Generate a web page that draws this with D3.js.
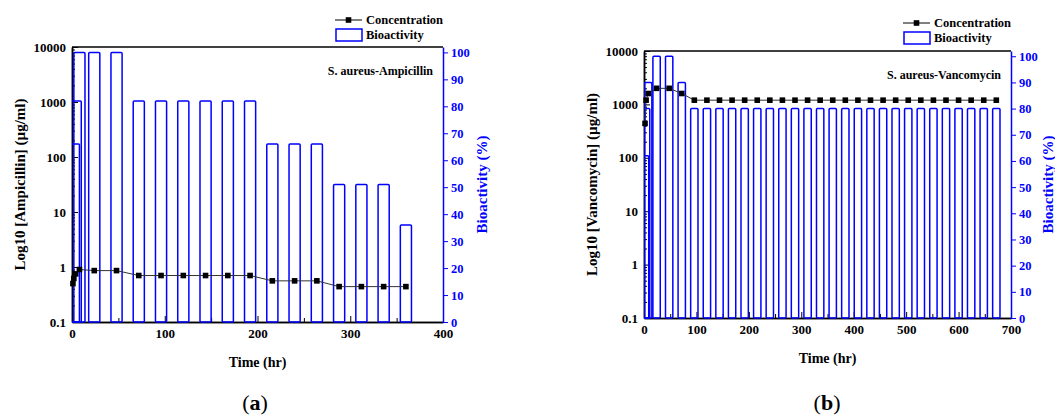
<!DOCTYPE html>
<html>
<head>
<meta charset="utf-8">
<script src="https://cdn.jsdelivr.net/npm/d3@7"></script>
<style>
  body { margin: 0; background: #fff; }
  svg text { font-family: "Liberation Serif", "Times New Roman", serif; font-weight: bold; }
</style>
</head>
<body>
<div class="chart"></div>
<script>
// (a) S. aureus - Ampicillin
const ampTimes = [1, 2, 4, 8, 24, 48, 72, 96, 120, 144, 168, 192, 216, 240, 264, 288, 312, 336, 360];
const ampConc = [0.5, 0.62, 0.75, 0.9, 0.86, 0.86, 0.7, 0.7, 0.7, 0.7, 0.7, 0.7, 0.56, 0.56, 0.56, 0.44, 0.44, 0.44, 0.44];
const ampBarTimes = [2, 4, 8, 24, 48, 72, 96, 120, 144, 168, 192, 216, 240, 264, 288, 312, 336, 360];
const ampBio = [66, 82, 100, 100, 100, 82, 82, 82, 82, 82, 82, 66, 66, 66, 51, 51, 51, 36];
const ampTimeTicks = [0, 100, 200, 300, 400];

// (b) S. aureus - Vancomycin
const vanTimes = [2, 4, 8, 24, 48, 72, 96, 120, 144, 168, 192, 216, 240, 264, 288, 312, 336, 360,
  384, 408, 432, 456, 480, 504, 528, 552, 576, 600, 624, 648, 672];
const vanConc = [440, 1200, 1600, 2000, 2000, 1600, 1200, 1200, 1200, 1200, 1200, 1200, 1200, 1200,
  1200, 1200, 1200, 1200, 1200, 1200, 1200, 1200, 1200, 1200, 1200, 1200, 1200, 1200, 1200, 1200, 1200];
const vanBarTimes = vanTimes;
const vanBio = [62, 80, 90, 100, 100, 90, 80, 80, 80, 80, 80, 80, 80, 80, 80, 80, 80, 80, 80, 80,
  80, 80, 80, 80, 80, 80, 80, 80, 80, 80, 80];
const vanTimeTicks = [0, 100, 200, 300, 400, 500, 600, 700];

const logTicks = [0.1, 1, 10, 100, 1000, 10000];
const bioTicks = [0, 10, 20, 30, 40, 50, 60, 70, 80, 90, 100];

const blue = "#0000ff";

const svg = d3
  .select(".chart")
  .append("svg")
  .attr("width", 1055)
  .attr("height", 419);

drawPanel({
  id: "a", left: 72, right: 443, top: 47, bottom: 322, xMax: 400, xTicks: ampTimeTicks,
  times: ampTimes, conc: ampConc, barTimes: ampBarTimes, bio: ampBio, barWidth: 12,
  yTitle: "Log10 [Ampicillin] (µg/ml)", note: "S. aureus-Ampicillin",
  legendX: 335, legendY: 20, yTitleX: 20, bioTitleX: 482, tagX: 255
});

drawPanel({
  id: "b", left: 644, right: 1011, top: 51, bottom: 318, xMax: 700, xTicks: vanTimeTicks,
  times: vanTimes, conc: vanConc, barTimes: vanBarTimes, bio: vanBio, barWidth: 14,
  yTitle: "Log10 [Vancomycin] (µg/ml)", note: "S. aureus-Vancomycin",
  legendX: 903, legendY: 23, yTitleX: 592, bioTitleX: 1048, tagX: 827
});

function drawPanel(p) {
  const x = d3.scaleLinear().domain([0, p.xMax]).range([p.left, p.right]);
  const y = d3.scaleLog().domain([0.1, 10000]).range([p.bottom, p.top]);
  const yr = d3.scaleLinear().domain([0, 102]).range([p.bottom, p.top]);

  const g = svg.append("g");

  // top frame line
  g.append("line")
    .attr("x1", p.left).attr("x2", p.right)
    .attr("y1", p.top).attr("y2", p.top)
    .attr("stroke", "#000").attr("stroke-width", 1.5);

  // bottom axis
  const xMinor = p.xTicks.slice(1).map((d, i) => (d + p.xTicks[i]) / 2);
  styleAxis(g.append("g")
    .attr("transform", "translate(0," + p.bottom + ")")
    .call(d3.axisBottom(x).tickValues(xMinor).tickFormat("").tickSizeInner(-4).tickSizeOuter(0)));
  styleAxis(g.append("g")
    .attr("transform", "translate(0," + p.bottom + ")")
    .call(d3.axisBottom(x).tickValues(p.xTicks).tickFormat(d3.format("d"))
      .tickSizeInner(-6).tickSizeOuter(0).tickPadding(7)));

  // left log axis
  const yMinor = [];
  [0.1, 1, 10, 100, 1000].forEach((dec) => {
    for (let k = 2; k <= 9; k++) yMinor.push(dec * k);
  });
  styleAxis(g.append("g")
    .attr("transform", "translate(" + p.left + ",0)")
    .call(d3.axisLeft(y).tickValues(yMinor).tickFormat("").tickSizeInner(-3).tickSizeOuter(0)));
  styleAxis(g.append("g")
    .attr("transform", "translate(" + p.left + ",0)")
    .call(d3.axisLeft(y).tickValues(logTicks).tickFormat((d) => String(d))
      .tickSizeInner(-6).tickSizeOuter(0).tickPadding(6)));

  // right bioactivity axis
  const right = g.append("g")
    .attr("transform", "translate(" + p.right + ",0)")
    .call(d3.axisRight(yr).tickValues(bioTicks).tickSizeInner(5).tickSizeOuter(0).tickPadding(3));
  styleAxis(right);
  right.attr("color", blue).attr("font-size", 12.5);

  // bars
  g.append("clipPath").attr("id", "clip-" + p.id)
    .append("rect")
    .attr("x", p.left).attr("y", p.top - 2)
    .attr("width", p.right - p.left).attr("height", p.bottom - p.top + 4);

  g.append("g")
    .attr("clip-path", "url(#clip-" + p.id + ")")
    .selectAll("rect")
    .data(p.barTimes)
    .enter()
    .append("rect")
    .attr("x", (d) => x(d - p.barWidth / 2))
    .attr("y", (d, i) => yr(p.bio[i]))
    .attr("width", x(p.barWidth) - x(0))
    .attr("height", (d, i) => yr(0) - yr(p.bio[i]))
    .attr("rx", 1)
    .attr("fill", "none")
    .attr("stroke", blue)
    .attr("stroke-width", 1.5);

  // concentration line + squares
  const pts = p.times.map((t, i) => [t, p.conc[i]]);
  g.append("path")
    .datum(pts)
    .attr("d", d3.line().x((d) => x(d[0])).y((d) => y(d[1])))
    .attr("fill", "none")
    .attr("stroke", "#333")
    .attr("stroke-width", 1);

  g.selectAll(".sq")
    .data(pts)
    .enter()
    .append("rect")
    .attr("class", "sq")
    .attr("x", (d) => x(d[0]) - 2.8)
    .attr("y", (d) => y(d[1]) - 2.8)
    .attr("width", 5.6)
    .attr("height", 5.6)
    .attr("fill", "#000");

  // titles
  g.append("text")
    .attr("transform", "translate(" + p.yTitleX + "," + (p.top + p.bottom) / 2 + ") rotate(-90)")
    .attr("text-anchor", "middle")
    .attr("dy", "0.35em")
    .attr("font-size", 15)
    .text(p.yTitle);

  g.append("text")
    .attr("transform", "translate(" + p.bioTitleX + "," + (p.top + p.bottom) / 2 + ") rotate(-90)")
    .attr("text-anchor", "middle")
    .attr("dy", "0.35em")
    .attr("font-size", 15)
    .attr("fill", blue)
    .text("Bioactivity (%)");

  g.append("text")
    .attr("x", (p.left + p.right) / 2)
    .attr("y", p.bottom + 45)
    .attr("text-anchor", "middle")
    .attr("font-size", 14)
    .text("Time (hr)");

  g.append("text")
    .attr("x", p.right - 10)
    .attr("y", p.top + 28)
    .attr("text-anchor", "end")
    .attr("font-size", 12)
    .text(p.note);

  // legend
  const lx = p.legendX, ly = p.legendY;
  g.append("line")
    .attr("x1", lx).attr("x2", lx + 27).attr("y1", ly).attr("y2", ly)
    .attr("stroke", "#000").attr("stroke-width", 1);
  g.append("rect")
    .attr("x", lx + 13.5 - 2.8).attr("y", ly - 2.8)
    .attr("width", 5.6).attr("height", 5.6).attr("fill", "#000");
  g.append("text")
    .attr("x", lx + 31).attr("y", ly + 4)
    .attr("font-size", 12.5)
    .text("Concentration");
  g.append("rect")
    .attr("x", lx + 1).attr("y", ly + 9)
    .attr("width", 26).attr("height", 12)
    .attr("fill", "none").attr("stroke", blue).attr("stroke-width", 1.5);
  g.append("text")
    .attr("x", lx + 31).attr("y", ly + 19)
    .attr("font-size", 12.5)
    .text("Bioactivity");

  // panel tag
  const tag = svg.append("text")
    .attr("x", p.tagX)
    .attr("y", p.bottom + 88 + (p.id === "b" ? 4 : 0))
    .attr("text-anchor", "middle")
    .attr("font-size", 22)
    .style("font-weight", "normal");
  tag.append("tspan").text("(");
  tag.append("tspan").style("font-weight", "bold").text(p.id);
  tag.append("tspan").text(")");
}

function styleAxis(sel) {
  sel.attr("font-family", "Liberation Serif").attr("font-size", 13);
  sel.select(".domain").attr("stroke-width", 1.5);
  sel.selectAll(".tick line").attr("stroke-width", 1);
}
</script>
</body>
</html>
